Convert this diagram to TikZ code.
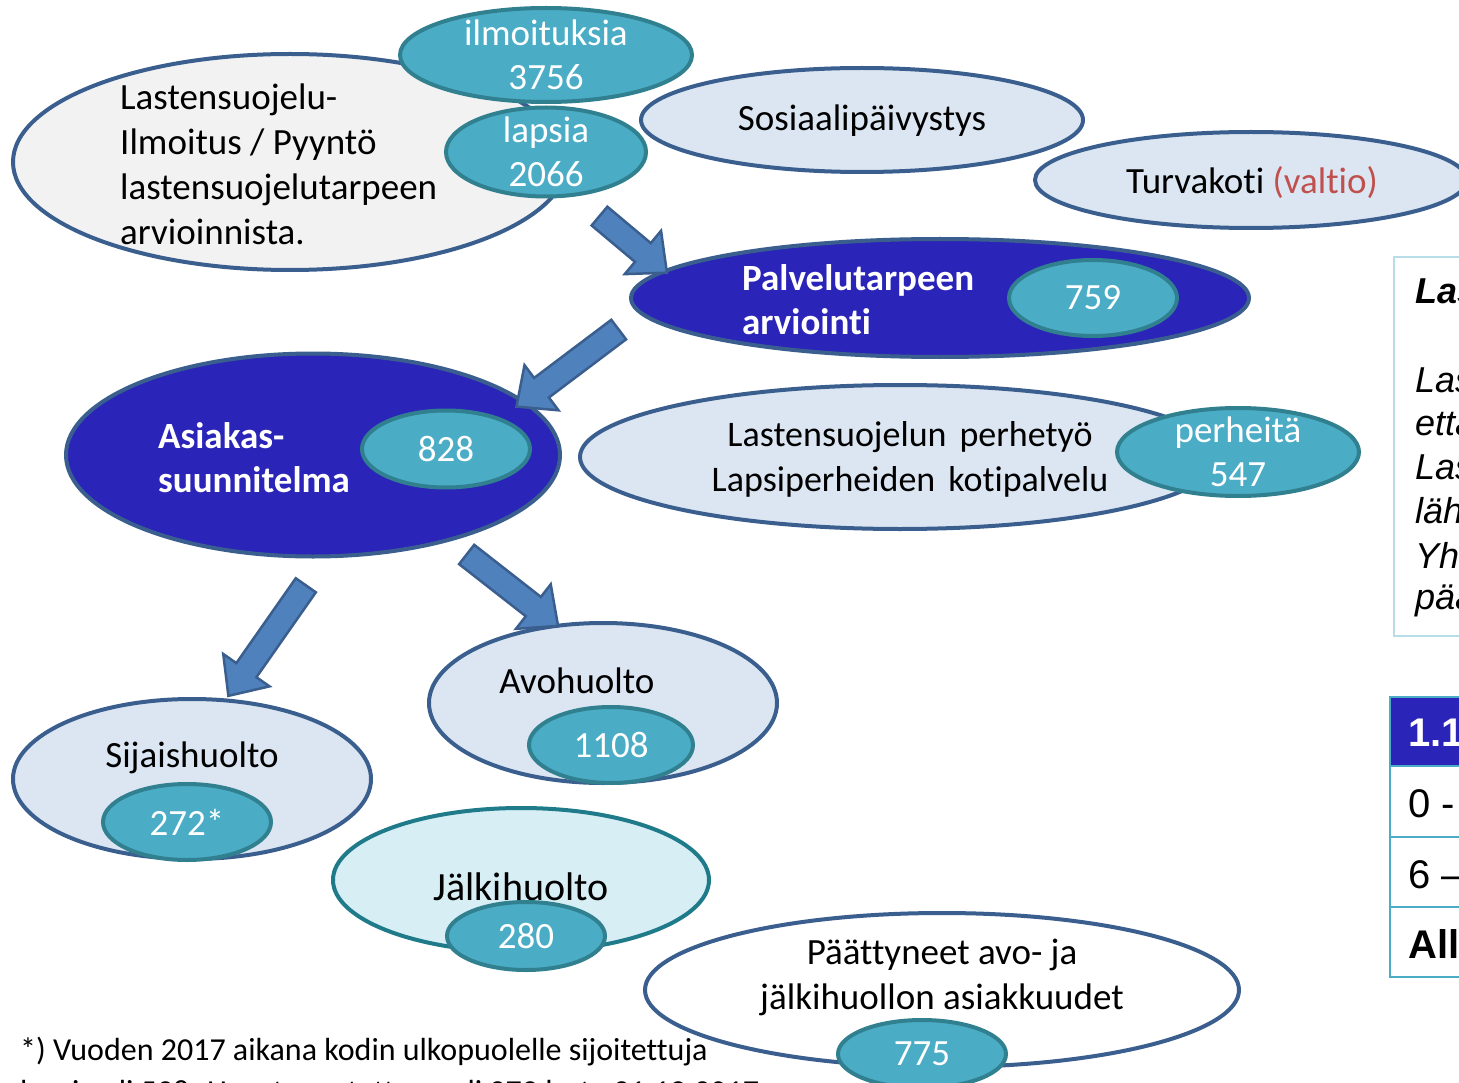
\documentclass[tikz,border=0pt]{standalone}
\usepackage{fontspec}
\setmainfont{Carlito}[Ligatures=NoCommon]
\newfontfamily\arialfont{Liberation Sans}
\newfontfamily\widefont[WordSpace=1.6, Ligatures=NoCommon]{Carlito}
\usetikzlibrary{shapes.geometric,shapes.arrows}

\definecolor{edgeblue}{HTML}{3A5F8E}
\definecolor{palegray}{HTML}{F2F2F2}
\definecolor{paleblue}{HTML}{DCE6F2}
\definecolor{deepblue}{HTML}{2A24B8}
\definecolor{tealfill}{HTML}{4BACC6}
\definecolor{tealedge}{HTML}{31808F}
\definecolor{palecyan}{HTML}{D6EEF4}
\definecolor{cyanedge}{HTML}{1F7A8A}
\definecolor{arrowblue}{HTML}{4F81BD}
\definecolor{valtiored}{HTML}{C0504D}
\definecolor{panelline}{HTML}{B7DDE8}

\tikzset{
  ovalbase/.style={ellipse, inner sep=0pt, line width=4pt},
  grayoval/.style={ovalbase, draw=edgeblue, fill=palegray},
  lightoval/.style={ovalbase, draw=edgeblue, fill=paleblue},
  darkoval/.style={ovalbase, draw=edgeblue, fill=deepblue},
  countoval/.style={ovalbase, draw=tealedge, fill=tealfill, text=white,
    font=\fontsize{37}{44}\selectfont},
  txt/.style={inner sep=0pt, font=\fontsize{37}{45}\selectfont, align=center},
  boldtxt/.style={txt, text=white, font=\fontsize{37}{44}\selectfont\bfseries, align=left, anchor=west},
  notetxt/.style={inner sep=0pt, anchor=west, font=\fontsize{32}{38}\selectfont},
  paneltxt/.style={inner sep=0pt, anchor=west, font=\arialfont\fontsize{36}{44}\selectfont\itshape},
  tabletxt/.style={inner sep=0pt, anchor=west, font=\arialfont\fontsize{40}{48}\selectfont},
  blockarrow/.style={single arrow, draw=edgeblue, fill=arrowblue, line width=2.5pt,
    inner xsep=0pt, inner ysep=11pt, single arrow head extend=16pt,
    single arrow tip angle=84},
}

\begin{document}
\begin{tikzpicture}[x=1pt, y=-1pt]
  \useasboundingbox (0,0) rectangle (1459,1083);
  \clip (0,0) rectangle (1459,1083);
  \fill[white] (0,0) rectangle (1459,1083);

  % ilmoitus
  \node[grayoval, minimum width=554, minimum height=216] (ilmoitus) at (290,162) {};
  \node[txt, anchor=west, align=left] (ilmoitustxt) at (120,164)
    {Lastensuojelu-\\Ilmoitus / Pyyntö\\lastensuojelutarpeen\\arvioinnista.};
  \node[countoval, minimum width=292, minimum height=94] (ilmoituksia) at (546,55) {};
  \node[txt, text=white, font=\fontsize{37}{44}\selectfont] at (ilmoituksia) {ilmoituksia\\3756};
  \node[countoval, minimum width=200, minimum height=89] (lapsia) at (546,152) {};
  \node[txt, text=white, font=\fontsize{37}{44}\selectfont] at (lapsia) {lapsia\\2066};

  % sosiaalipaivystys, turvakoti
  \node[lightoval, minimum width=442, minimum height=104] (sospaiv) at (862,120) {};
  \node[txt] at (862,121) {Sosiaalipäivystys};
  \node[lightoval, minimum width=432, minimum height=96] (turvakoti) at (1251,180) {};
  \node[txt] at (1252,183) {Turvakoti \textcolor{valtiored}{(valtio)}};

  % palvelutarpeen arviointi
  \node[darkoval, minimum width=618, minimum height=118] (arviointi) at (940,298) {};
  \node[boldtxt] at (742,300) {Palvelutarpeen\\arviointi};
  \node[countoval, minimum width=168, minimum height=76] (n759) at (1093,298) {759};

  % asiakassuunnitelma
  \node[darkoval, minimum width=494, minimum height=203] (suunnitelma) at (313,455) {};
  \node[boldtxt] at (158,458) {Asiakas-\\suunnitelma};
  \node[countoval, minimum width=168, minimum height=77] (n828) at (446,449) {828};

  % perhetyo
  \node[lightoval, minimum width=640, minimum height=144] (perhetyo) at (900,457) {};
  \node[txt, font=\widefont\fontsize{36}{45}\selectfont] at (910,459)
    {Lastensuojelun perhetyö\\Lapsiperheiden kotipalvelu};
  \node[countoval, minimum width=242, minimum height=88] (perheita) at (1238,452) {};
  \node[txt, text=white, font=\fontsize{37}{44}\selectfont] at (perheita) {perheitä\\547};

  % avohuolto, sijaishuolto
  \node[lightoval, minimum width=348, minimum height=160] (avohuolto) at (603,703) {};
  \node[txt] at (577,681) {Avohuolto};
  \node[countoval, minimum width=164, minimum height=76] (n1108) at (611,745) {1108};
  \node[lightoval, minimum width=358, minimum height=160] (sijaishuolto) at (192,779) {};
  \node[txt] at (192,758) {Sijaishuolto};
  \node[countoval, minimum width=168, minimum height=76] (n272) at (187,822) {272*};

  % jalkihuolto
  \node[ovalbase, draw=cyanedge, fill=palecyan, minimum width=376, minimum height=144] (jalkihuolto) at (521,880) {};
  \node[txt, font=\fontsize{40}{48}\selectfont] at (521,887) {Jälkihuolto};
  \node[countoval, minimum width=158, minimum height=68] (n280) at (526,936) {280};

  % paattyneet
  \node[ovalbase, draw=edgeblue, fill=white, minimum width=594, minimum height=154] (paattyneet) at (942,990) {};
  \node[txt] at (942,977) {Päättyneet avo- ja\\jälkihuollon asiakkuudet};
  \node[countoval, minimum width=168, minimum height=68] (n775) at (922,1054) {775};

  % arrows
  \node[blockarrow, minimum height=88, rotate=-40] (a1) at (628,240) {};
  \node[blockarrow, minimum height=128, rotate=-143] (a2) at (573,364) {};
  \node[blockarrow, minimum height=135, rotate=-125] (a3) at (271,635) {};
  \node[blockarrow, minimum height=116, rotate=-38] (a4) at (507,586) {};

  % footnote
  \node[notetxt] (note1) at (20,1052) {*) Vuoden 2017 aikana kodin ulkopuolelle sijoitettuja};
  \node[notetxt] (note2) at (20,1094) {lapsia oli 598. Huostaanotettuna oli 272 lasta 31.12.2017.};

  % right panel
  \draw[panelline, line width=2pt] (1394,257) rectangle (1480,636);
  \node[paneltxt, font=\arialfont\fontsize{36}{44}\selectfont\bfseries\itshape] at (1415,291) {Las};
  \node[paneltxt] at (1415,380) {Las};
  \node[paneltxt] at (1415,423) {että};
  \node[paneltxt] at (1415,467) {Las};
  \node[paneltxt] at (1415,511) {lähi};
  \node[paneltxt] at (1415,556) {Yht};
  \node[paneltxt] at (1415,601) {pää};

  % table
  \fill[deepblue] (1390,697) rectangle (1480,766);
  \draw[tealfill, line width=2pt] (1390,697) rectangle (1480,977);
  \foreach \yy in {766,837,907} {
    \draw[tealfill, line width=2pt] (1390,\yy) -- (1480,\yy);
  }
  \node[tabletxt, text=white, font=\arialfont\fontsize{40}{48}\selectfont\bfseries] at (1408,733) {1.1};
  \node[tabletxt] at (1408,804) {0 -};
  \node[tabletxt] at (1408,875) {6 –};
  \node[tabletxt, font=\arialfont\fontsize{40}{48}\selectfont\bfseries] at (1408,944) {All};
\end{tikzpicture}
\end{document}
